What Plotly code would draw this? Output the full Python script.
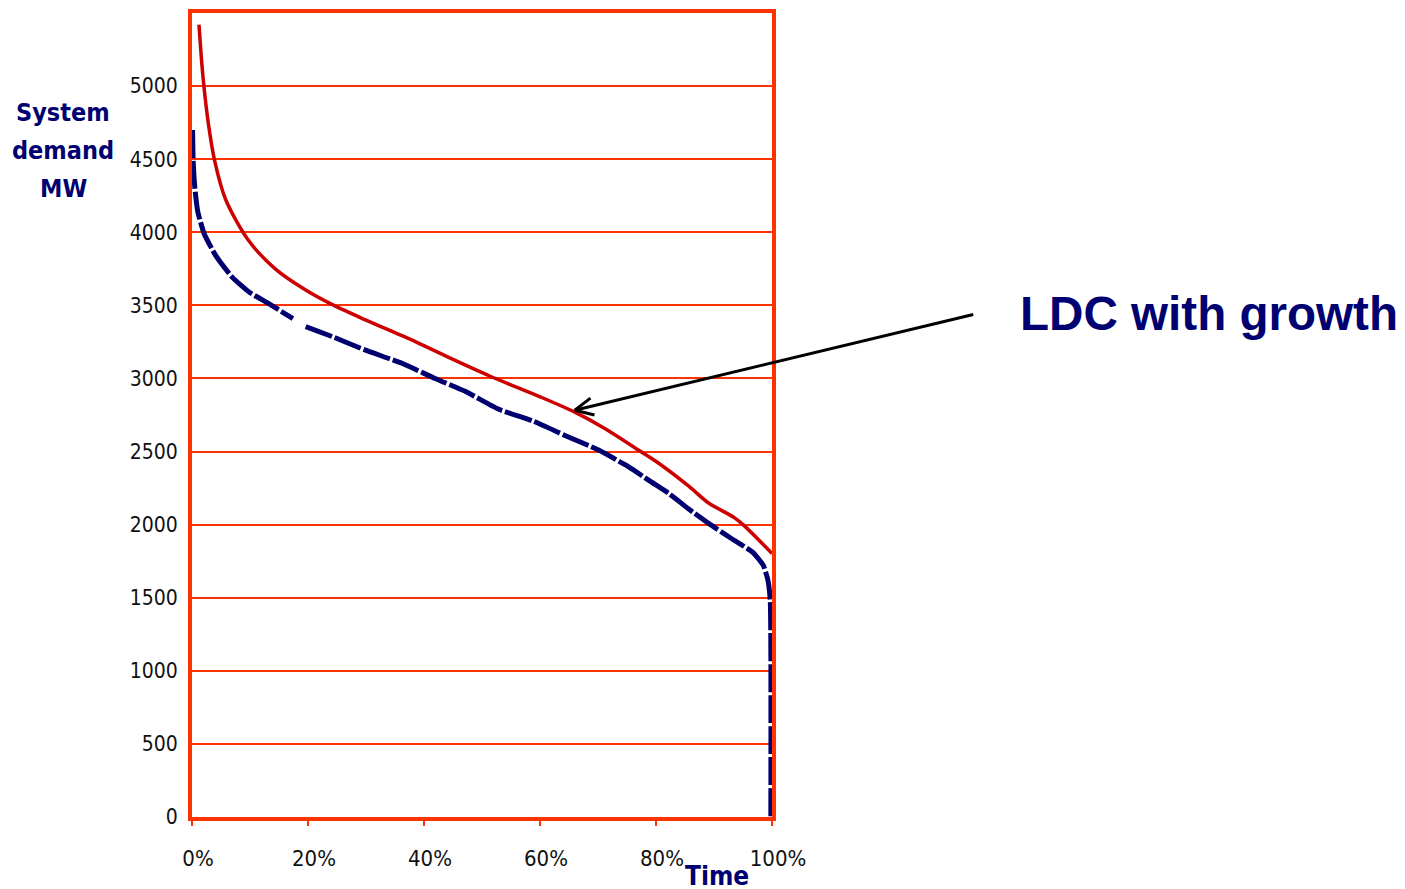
import plotly.graph_objects as go

# Data (time in % of period, demand in MW)
growth_time = [1.2, 1.6, 2.0, 2.8, 3.9, 5.8, 9.6, 14.4, 19.6, 24.2, 29.9, 38.5, 45, 51.7, 59.8, 66.0, 71.1, 77.5, 80.4, 85.6, 89.0, 93.5, 95.2, 100]
growth_mw = [5420, 5200, 5020, 4750, 4490, 4224, 3952, 3748, 3605, 3505, 3401, 3252, 3130, 3010, 2878, 2770, 2660, 2497, 2422, 2265, 2150, 2048, 1993, 1803]

base_time = [0.1, 0.2, 0.5, 1.0, 2.1, 4.1, 7.0, 9.9, 13.3, 17.4, None, 19.6, 24.2, 29.7, 36.3, 41.9, 47.1, 52.9, 58.9, 64.6, 70.1, 75.3, 78.9, 82.3, 85.6, 89.0, 93.0, 96.7, 98.5, 99.3, 99.7, 99.8]
base_mw = [4700, 4490, 4300, 4140, 3990, 3840, 3690, 3590, 3510, 3410, None, 3355, 3286, 3197, 3102, 3000, 2912, 2789, 2707, 2605, 2510, 2395, 2299, 2211, 2108, 2010, 1905, 1810, 1721, 1620, 1480, 0]

x_ticks = [0, 20, 40, 60, 80, 100]
x_tick_labels = ["0%", "20%", "40%", "60%", "80%", "100%"]
y_ticks = [0, 500, 1000, 1500, 2000, 2500, 3000, 3500, 4000, 4500, 5000]
y_title_lines = ["System", "demand", "MW"]

NAVY = "#000070"
FRAME = "#FF3300"
NARROW = "Liberation Sans Narrow, Arial Narrow, DejaVu Sans Condensed, sans-serif"

fig = go.Figure()
fig.add_trace(go.Scatter(x=growth_time, y=growth_mw, mode="lines",
                         line=dict(color="#CC0000", width=3.5, shape="spline", smoothing=0.8),
                         connectgaps=False))
fig.add_trace(go.Scatter(x=base_time, y=base_mw, mode="lines",
                         line=dict(color=NAVY, width=5, dash="28px,3px", shape="spline", smoothing=0.5),
                         connectgaps=False))

fig.update_layout(
    width=1405, height=889,
    margin=dict(l=184, r=641, t=1, b=80),
    paper_bgcolor="white", plot_bgcolor="white",
    showlegend=False,
    xaxis=dict(range=[0, 100], tickvals=x_ticks, ticktext=x_tick_labels,
               showgrid=False, zeroline=False, showline=True, mirror=True,
               linecolor=FRAME, linewidth=4, ticks="outside", ticklen=5, tickwidth=2,
               tickcolor=FRAME, tickfont=dict(family=NARROW, size=22, color="#111111"),
               ticklabelstandoff=14, ticklabelshift=6),
    yaxis=dict(range=[0, 5500], tickvals=y_ticks, showgrid=True, gridcolor=FRAME, gridwidth=2,
               zeroline=False, showline=True, mirror=True, linecolor=FRAME, linewidth=4,
               ticks="", tickfont=dict(family=NARROW, size=21, color="#111111"),
               ticklabelstandoff=6),
)

# Axis titles
for line_text, yp in zip(y_title_lines, [0.876, 0.829, 0.782]):
    fig.add_annotation(text=line_text, xref="paper", yref="paper",
                       x=-0.222, y=yp, showarrow=False, xanchor="center", yanchor="middle",
                       font=dict(family=NARROW, size=25, color=NAVY, weight="bold"))
fig.add_annotation(text="Time", xref="paper", yref="paper", x=0.905, y=-0.073,
                   showarrow=False, xanchor="center", yanchor="middle",
                   font=dict(family=NARROW, size=26, color=NAVY, weight="bold"))

# Callout
fig.add_annotation(text="LDC with growth", xref="paper", yref="paper", x=1.424, y=0.626,
                   showarrow=False, xanchor="left", yanchor="middle",
                   font=dict(family="Liberation Sans, Arial, sans-serif", size=47.6, color=NAVY, weight="bold"))
for x0, y0, x1, y1 in [(1.347, 0.625, 0.660, 0.506), (0.660, 0.506, 0.687, 0.521), (0.660, 0.506, 0.694, 0.500)]:
    fig.add_shape(type="line", xref="paper", yref="paper", x0=x0, y0=y0, x1=x1, y1=y1,
                  line=dict(color="black", width=3))

fig.write_html("out.html")
